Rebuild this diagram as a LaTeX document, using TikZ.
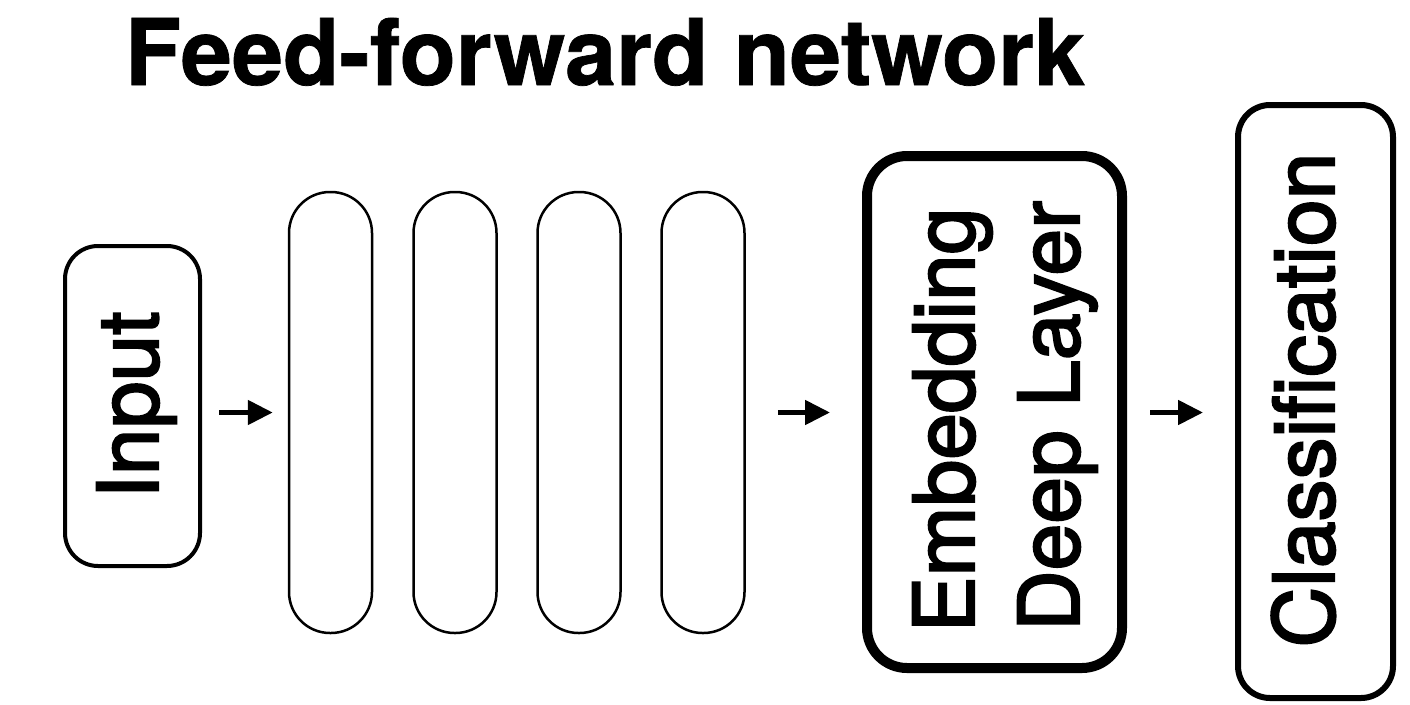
\documentclass[tikz,border=0pt]{standalone}
\usepackage{fontspec}
\setmainfont{TeX Gyre Heros}
\newfontfamily\medfont[FakeBold=2.5]{TeX Gyre Heros}
\newfontfamily\titlefont[FakeBold=0.8]{TeX Gyre Heros Bold}
\usetikzlibrary{arrows.meta}
\begin{document}
\begin{tikzpicture}[x=1pt,y=1pt,
  box/.style={draw=black, fill=white, rounded corners=#1, inner sep=0pt},
  layer/.style={draw=black, line width=2.5pt, rounded corners=41pt, minimum width=83pt, minimum height=441pt, inner sep=0pt},
  txt/.style={rotate=90, anchor=base, inner sep=0pt, font=\medfont\fontsize{84}{105}\selectfont},
  arr/.style={line width=5pt, -{Triangle[length=25pt,width=24pt]}}
]
\useasboundingbox (0,0) rectangle (1410,-704);
\fill[white] (0,0) rectangle (1410,-704);
\node[anchor=base, inner sep=0pt, font=\titlefont\fontsize{92}{100}\selectfont] (title) at (605,-85) {Feed-forward network};

\node[box=33pt, line width=4pt, minimum height=320pt, minimum width=135pt] (input) at (132.5,-406) {};
\node[txt] (inputtxt) at (158,-405) {Input};

\node[layer] (l1) at (330.5,-412.5) {};
\node[layer] (l2) at (455,-412.5) {};
\node[layer] (l3) at (579,-412.5) {};
\node[layer] (l4) at (703,-412.5) {};

\node[box=40pt, line width=10pt, minimum height=512pt, minimum width=255pt] (emb) at (994.5,-412) {};
\node[txt] (embtxt1) at (974,-420) {Embedding};
\node[txt] (embtxt2) at (1079,-416) {Deep Layer};

\node[box=32pt, line width=6pt, minimum height=593pt, minimum width=155pt] (cls) at (1315.5,-401.5) {};
\node[txt] (clstxt) at (1334,-400) {Classification};

\draw[arr, shorten <=17pt, shorten >=15pt] (input.east |- l1.west) -- (l1.west);
\draw[arr, shorten <=32pt, shorten >=32pt] (l4.east) -- (emb.west |- l4.east);
\draw[arr, shorten <=23pt, shorten >=32pt] (emb.east |- l4.east) -- (cls.west |- l4.east);
\end{tikzpicture}
\end{document}
